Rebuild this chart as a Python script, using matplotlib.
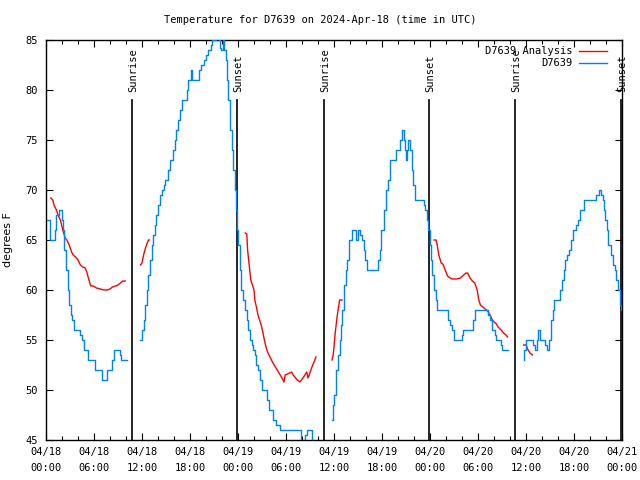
import numpy as np
import matplotlib
matplotlib.use("Agg")
import matplotlib.pyplot as plt

# hours since 2024-04-18 00:00 UTC
# observed station temps (D7639), stepped
obs1_h = [0.15, 0.5, 1.1, 1.3, 1.6, 2.0, 2.15, 2.3, 2.5, 2.7, 2.9, 3.1, 3.3, 3.5, 4.25, 4.45, 4.7, 5.2, 6.1, 7.0, 7.6, 8.2, 8.5, 9.2, 9.4, 10.1]
obs1_t = [67, 65, 66, 67.5, 68, 67, 66, 64, 62, 60, 58.5, 57.5, 57, 56, 55.5, 55, 54, 53, 52, 51, 52, 53, 54, 53.5, 53, 53]

obs2_h = [11.8, 12.0, 12.2, 12.4, 12.6, 12.8, 13.0, 13.2, 13.4, 13.6, 13.8, 14.0, 14.25, 14.5, 14.7, 14.9, 15.3, 15.5, 15.9, 16.1,
          16.3, 16.5, 16.7, 17.0, 17.4, 17.6, 17.8, 18.1, 18.3, 18.9, 19.1, 19.4, 19.7, 20.0, 20.3, 20.6, 20.8, 21.2, 21.6, 21.75,
          21.9, 22.1, 22.3, 22.5, 22.6, 22.8, 23.0, 23.2, 23.4, 23.6, 23.75, 23.85, 24.0, 24.2, 24.4, 24.6, 24.9, 25.1, 25.3, 25.5,
          25.7, 25.9, 26.1, 26.3, 26.5, 26.7, 27.0, 27.6, 27.9, 28.4, 28.8, 29.25, 31.9, 32.4, 32.6, 33.3, 33.5]
obs2_t = [55, 56, 57, 58.5, 60, 61.5, 63, 64.5, 65.5, 66.5, 67.5, 68.5, 69.5, 70, 70.5, 71, 72, 73, 74, 75,
          76, 77, 78, 79, 79, 80, 81, 82, 81, 81, 82, 82.5, 83, 83.5, 84, 84.5, 85, 85.5, 85, 84.2,
          84, 85, 84, 83, 81, 79, 76, 74, 72, 70, 68, 66, 64.5, 62, 60, 59, 58, 57, 56, 55,
          54.5, 54, 53.5, 52.5, 52, 51, 50, 49, 48, 47, 46.5, 46, 45, 45.5, 46, 45, 44]

obs3_h = [35.75, 35.9, 36.0, 36.2, 36.3, 36.5, 36.7, 36.85, 37.0, 37.25, 37.45, 37.6, 37.9, 38.2, 38.8, 38.95, 39.25, 39.5, 39.7, 39.9,
          40.1, 41.5, 41.7, 41.9, 42.2, 42.5, 42.8, 43.0, 43.6, 43.8, 44.2, 44.45, 44.75, 44.9, 45.05, 45.15, 45.3, 45.5, 45.7, 45.9,
          46.1, 47.2, 47.4, 47.6, 47.8, 47.95, 48.1, 48.3, 48.5, 48.7, 48.9, 50.3, 50.5, 50.8, 51.0, 52.0, 52.15, 53.4, 53.6, 55.3,
          55.5, 55.7, 56.1, 56.3, 56.9, 57.0, 57.7]
obs3_t = [47, 48.5, 49.5, 51, 52, 53.5, 55, 56.5, 58, 60.5, 62, 63, 65, 66, 65, 66, 65.5, 65, 64, 63,
          62, 63, 64, 66, 68, 70, 71, 73, 73, 74, 75, 76, 75, 74, 73, 74, 75, 74, 72, 70.5,
          69, 68.5, 68, 67, 66, 64.5, 63, 61.5, 60, 59, 58, 57, 56.5, 56, 55, 55.5, 56, 57, 58, 57.5,
          57, 56, 55.5, 55, 54.5, 54, 54]

obs4_h = [59.7, 59.8, 59.95, 60.9, 61.1, 61.35, 61.55, 61.75, 62.4, 62.6, 62.9, 63.1, 63.35, 63.55, 64.3, 64.5, 64.7, 64.9, 65.15, 65.4,
          65.6, 65.9, 66.2, 66.5, 66.8, 67.2, 68.75, 69.1, 69.35, 69.6, 69.75, 69.9, 70.1, 70.3, 70.6, 70.9, 71.1, 71.3, 71.5, 71.7,
          71.85, 72.0]
obs4_t = [53, 54, 55, 54.5, 54, 55, 56, 55, 54.5, 54, 55, 57, 58, 59, 60, 61, 62, 63, 63.5, 64,
          65, 66, 66.5, 67, 68, 69, 69.5, 70, 69.5, 69, 68, 67, 66, 64.5, 63.5, 62.5, 62, 61, 60, 58.5,
          58, 58]

# analysis temps (D7639 Analysis)
ana1_h = [0.6, 0.85, 1.0, 1.3, 1.5, 1.8, 2.1, 2.4, 2.6, 2.9, 3.2, 3.4, 3.7, 4.0, 4.3, 4.6, 4.9, 5.1, 5.3, 5.6, 5.9, 6.3, 6.8, 7.2, 7.7, 8.0, 8.3, 8.7, 9.0, 9.3, 9.6, 9.9]
ana1_t = [69.2, 69, 68.5, 68, 67.5, 67, 66, 65.2, 65, 64.5, 63.8, 63.5, 63.3, 63, 62.5, 62.3, 62.2, 61.8, 61.2, 60.4, 60.4, 60.2, 60.1, 60, 60, 60.1, 60.3, 60.4, 60.5, 60.7, 60.9, 60.9]
ana2_h = [11.8, 12.0, 12.2, 12.4, 12.6, 12.8, 12.9]
ana2_t = [62.5, 62.7, 63.5, 64.1, 64.6, 65, 65]
ana3_h = [24.9, 25.1, 25.2, 25.4, 25.6, 25.8, 26.0, 26.1, 26.3, 26.5, 26.7, 26.9, 27.1, 27.3, 27.5, 27.7, 28.0, 28.3, 28.6, 28.9,
          29.2, 29.5, 29.75, 29.9, 30.2, 30.7, 30.9, 31.2, 31.4, 31.75, 32.2, 32.6, 32.75, 32.9, 33.2, 33.5, 33.75]
ana3_t = [65.7, 65.6, 64, 62.5, 61, 60.5, 60, 59, 58.3, 57.5, 57, 56.5, 55.8, 55, 54.3, 53.8, 53.3, 52.8, 52.4, 52,
          51.6, 51.2, 50.8, 51.5, 51.6, 51.8, 51.5, 51.2, 51, 50.8, 51.3, 51.8, 51.2, 51.5, 52.2, 52.8, 53.3]
ana4_h = [35.75, 35.9, 36.0, 36.15, 36.4, 36.6, 36.7, 37.0]
ana4_t = [53, 53.5, 54.3, 55.7, 57.4, 58.5, 59, 59]
ana5_h = [48.5, 48.75, 48.9, 49.1, 49.4, 49.6, 49.9, 50.2, 50.5, 50.8, 51.3, 51.8, 52.2, 52.5, 52.7, 53.0, 53.3, 53.6, 53.9, 54.1,
          54.3, 54.6, 54.9, 55.2, 55.5, 55.8, 56.0, 56.3, 56.5, 56.9, 57.2, 57.5, 57.7]
ana5_t = [65, 65, 64.5, 63.5, 62.7, 62.6, 62, 61.4, 61.2, 61.1, 61.1, 61.2, 61.5, 61.7, 61.7, 61.2, 60.9, 60.7, 60, 59,
          58.5, 58.3, 58.1, 57.9, 57.5, 57, 56.8, 56.6, 56.3, 56, 55.7, 55.5, 55.3]
ana6_h = [59.7, 60.0, 60.2, 60.5, 60.8]
ana6_t = [54.5, 54.5, 54.1, 53.7, 53.5]

sun_h = [10.79, 23.92, 34.75, 47.92, 58.67, 71.875]
sun_lab = ["Sunrise", "Sunset", "Sunrise", "Sunset", "Sunrise", "Sunset"]

tick_h = [0, 6, 12, 18, 24, 30, 36, 42, 48, 54, 60, 66, 72]
tick_lab = ["04/18\n00:00", "04/18\n06:00", "04/18\n12:00", "04/18\n18:00",
            "04/19\n00:00", "04/19\n06:00", "04/19\n12:00", "04/19\n18:00",
            "04/20\n00:00", "04/20\n06:00", "04/20\n12:00", "04/20\n18:00",
            "04/21\n00:00"]


def join(hs, ts):
    # glue segments with nan gaps
    xx, yy = [], []
    for h, t in zip(hs, ts):
        xx += list(h) + [np.nan]
        yy += list(t) + [np.nan]
    return np.array(xx), np.array(yy)


mono = "DejaVu Sans Mono"
fs = 7.5
RED = "#ff0000"
BLUE = "#0080ff"

fig = plt.figure(figsize=(6.4, 4.8), dpi=100)
ax = fig.add_axes([46 / 640, 40 / 480, 576 / 640, 400 / 480])

ox, oy = join([obs1_h, obs2_h, obs3_h, obs4_h], [obs1_t, obs2_t, obs3_t, obs4_t])
axx, ayy = join([ana1_h, ana2_h, ana3_h, ana4_h, ana5_h, ana6_h],
                [ana1_t, ana2_t, ana3_t, ana4_t, ana5_t, ana6_t])

ax.plot(axx, ayy, color=RED, lw=1.0, label="D7639 Analysis", zorder=3)
ax.plot(ox, oy, color=BLUE, lw=1.0, drawstyle="steps-post", label="D7639", zorder=3)

for h, s in zip(sun_h, sun_lab):
    ax.plot([h, h], [45, 79], color="black", lw=1.2, zorder=2)
    ax.text(h + 0.1, 79.75, s, rotation=90, ha="center", va="bottom",
            fontsize=fs, family=mono)

ax.set_xlim(0, 72)
ax.set_ylim(45, 85)
ax.set_xticks(tick_h)
ax.set_xticklabels(tick_lab, family=mono, fontsize=fs, linespacing=1.7)
ax.set_xticks(np.arange(0, 73, 2), minor=True)
ax.set_yticks(np.arange(45, 86, 5))
ax.set_yticklabels([str(v) for v in range(45, 86, 5)], family=mono, fontsize=fs)
ax.tick_params(which="both", direction="in", top=True, right=True, width=0.8)
ax.tick_params(which="major", length=5, pad=5)
ax.tick_params(which="minor", length=3)
ax.tick_params(axis="y", pad=6)
for sp in ax.spines.values():
    sp.set_linewidth(1.0)

ax.set_ylabel("degrees F", fontsize=8, labelpad=9)
fig.text(0.5, 1 - 20 / 480, "Temperature for D7639 on 2024-Apr-18 (time in UTC)",
         ha="center", va="center", family=mono, fontsize=fs)

leg = ax.legend(loc="upper right", bbox_to_anchor=(0.985, 1.0), frameon=False,
                markerfirst=False, handlelength=2.7, handletextpad=0.65,
                labelspacing=0.2, borderaxespad=0.2, prop={"family": mono, "size": fs})

fig.savefig("out.png", dpi=100)
